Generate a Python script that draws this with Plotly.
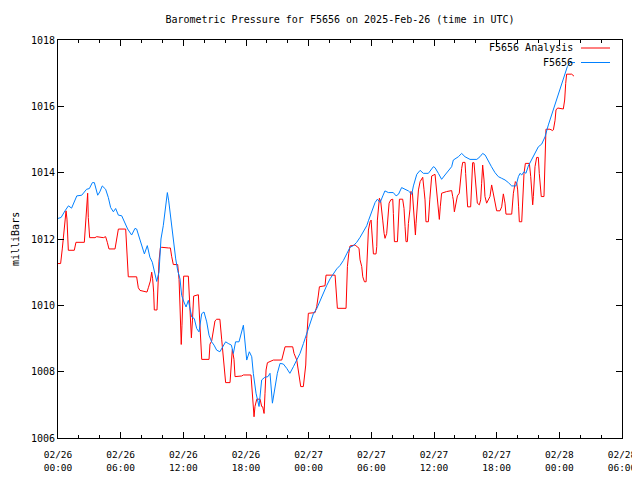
import pandas as pd
import plotly.graph_objects as go

BASE = pd.Timestamp("2025-02-26 00:00")

# F5656 observed pressure: hours since 2025-02-26 00:00 UTC, mbar
obs_hours = [0, 0.3, 0.67, 1.0, 1.3, 1.8, 2.27, 2.74, 3.0, 3.29, 3.48, 3.8, 4.0, 4.24, 4.56, 4.82, 5.04, 5.3, 5.52, 5.78,
             6.1, 6.4, 6.67, 7.05, 7.37, 7.53, 7.85, 8.07, 8.27, 8.55, 8.8, 9.03, 9.22, 9.45, 9.67, 9.86, 10.08, 10.3, 10.47,
             10.6, 10.88, 11.04, 11.27, 11.46, 11.68, 11.84, 12.06, 12.26, 12.48, 12.64, 12.8, 13.05, 13.28, 13.5, 13.76,
             13.98, 14.24, 14.46, 14.71, 14.94, 15.19, 15.5, 15.8, 16.05, 16.3, 16.6, 16.79, 17.0, 17.33, 17.5, 17.75, 18.07,
             18.32, 18.55, 18.7, 18.96, 19.25, 19.5, 19.8, 20.1, 20.3, 20.53, 20.78, 21.0, 21.26, 21.58, 21.9, 22.2, 22.54,
             22.86, 23.17, 23.5, 23.8, 24.13, 24.45, 24.77, 25.09, 25.41, 25.73, 26.05, 26.37, 26.69, 27.0, 27.32, 27.64,
             27.96, 28.28, 28.6, 28.92, 29.24, 29.56, 29.72, 30.04, 30.36, 30.58, 30.84, 31.1, 31.3, 31.63, 32.1, 32.37,
             32.6, 32.9, 33.2, 33.55, 33.87, 34.03, 34.35, 34.67, 34.98, 35.46, 35.94, 36.1, 36.42, 36.73, 37.05, 37.37,
             37.69, 37.85, 38.33, 38.65, 38.97, 39.45, 40.1, 40.4, 40.66, 40.9, 41.2, 41.5, 41.84, 42.16, 42.48, 42.8,
             43.12, 43.44, 43.85, 44.08, 44.24, 44.4, 44.62, 44.8, 45.03, 45.35, 45.67, 45.99, 46.31, 46.63, 46.95, 47.27,
             47.59, 47.91, 48.23, 48.55, 48.77, 49.02, 49.5]
obs_mbar = [1012.62, 1012.65, 1012.85, 1013.0, 1012.93, 1013.3, 1013.32, 1013.5, 1013.52, 1013.7, 1013.7, 1013.32,
            1013.42, 1013.6, 1013.5, 1013.25, 1012.95, 1012.82, 1012.92, 1012.72, 1012.7, 1012.5, 1012.3, 1012.12,
            1012.32, 1012.3, 1012.0, 1011.8, 1011.55, 1011.8, 1011.45, 1011.3, 1011.0, 1010.72, 1011.0, 1012.0, 1012.4,
            1012.9, 1013.4, 1013.15, 1012.5, 1012.0, 1011.4, 1011.05, 1010.8, 1010.3, 1010.1, 1009.95, 1010.15, 1009.9,
            1009.65, 1009.6, 1009.3, 1009.2, 1009.75, 1009.8, 1009.5, 1009.1, 1008.9, 1008.8, 1008.65, 1008.6, 1008.75,
            1008.9, 1008.85, 1008.8, 1008.55, 1008.9, 1008.9, 1009.1, 1009.4, 1008.35, 1008.6, 1008.45, 1007.95, 1007.35,
            1006.95, 1007.75, 1007.83, 1007.85, 1007.95, 1007.05, 1007.55, 1007.95, 1008.25, 1008.23, 1008.1, 1007.95,
            1008.15, 1008.35, 1008.55, 1008.85, 1009.15, 1009.5, 1009.75, 1009.9, 1010.15, 1010.35, 1010.6, 1010.8,
            1010.95, 1011.1, 1011.2, 1011.35, 1011.55, 1011.75, 1011.8, 1011.9, 1012.05, 1012.25, 1012.4, 1012.55,
            1012.85, 1013.1, 1013.2, 1013.1, 1013.3, 1013.45, 1013.4, 1013.4, 1013.3, 1013.35, 1013.55, 1013.5, 1013.45,
            1013.35, 1013.6, 1013.95, 1014.07, 1013.98, 1013.98, 1014.18, 1014.15, 1013.98, 1013.8, 1013.93, 1014.06,
            1014.18, 1014.38, 1014.48, 1014.58, 1014.48, 1014.4, 1014.4, 1014.48, 1014.58, 1014.53, 1014.33, 1014.18,
            1014.0, 1013.88, 1013.83, 1013.78, 1013.7, 1013.6, 1013.6, 1013.88, 1013.98, 1013.93, 1014.03, 1013.98,
            1014.2, 1014.38, 1014.58, 1014.78, 1014.86, 1015.08, 1015.44, 1015.74, 1016.04, 1016.34, 1016.7, 1017.0,
            1017.2, 1017.32, 1017.32]

# F5656 Analysis pressure: hours since 2025-02-26 00:00 UTC, mbar
ana_hours = [0.0, 0.25, 0.41, 0.55, 0.67, 0.77, 0.86, 0.93, 0.99, 1.56, 1.72, 2.52, 2.65, 2.78, 2.84, 2.9, 3.03, 3.54,
             3.7, 4.34, 4.56, 4.72, 4.88, 5.46, 5.62, 5.78, 6.48, 6.57, 6.73, 7.53, 7.69, 7.85, 8.33, 8.52, 8.65, 8.84,
             8.97, 9.06, 9.16, 9.22, 9.48, 9.54, 9.61, 9.67, 9.8, 9.93, 10.57, 10.76, 10.88, 11.04, 11.46, 11.59, 11.68,
             11.74, 11.8, 11.87, 11.94, 12.03, 12.48, 12.57, 12.67, 12.77, 12.87, 12.99, 13.44, 13.53, 13.66, 13.76,
             14.46, 14.55, 14.71, 14.87, 15.03, 15.19, 15.5, 15.67, 15.83, 15.99, 16.05, 16.47, 16.56, 16.69, 16.85,
             16.95, 17.59, 17.75, 18.48, 18.54, 18.67, 18.77, 18.86, 19.03, 19.35, 19.5, 19.6, 19.73, 19.82, 19.92,
             20.05, 20.62, 21.42, 21.58, 21.74, 22.47, 22.6, 22.86, 23.02, 23.11, 23.24, 23.49, 23.59, 23.72, 23.81,
             23.9, 23.97, 24.61, 24.77, 24.93, 25.03, 25.57, 25.66, 26.53, 26.69, 26.75, 27.58, 27.64, 27.71, 27.84,
             27.96, 28.44, 28.82, 28.92, 29.08, 29.18, 29.34, 29.5, 29.56, 29.62, 29.72, 29.88, 29.98, 30.04, 30.13,
             30.2, 30.45, 30.52, 30.58, 30.68, 30.77, 30.9, 31.0, 31.09, 31.22, 31.31, 31.47, 31.57, 31.7, 31.86, 32.05,
             32.11, 32.21, 32.5, 32.59, 32.69, 33.0, 33.13, 33.23, 33.32, 33.45, 33.55, 33.7, 33.77, 33.93, 34.03,
             34.12, 34.22, 34.28, 34.38, 34.51, 34.67, 34.92, 35.04, 35.14, 35.23, 35.46, 35.6, 35.78, 36.1, 36.2,
             36.32, 36.45, 36.51, 36.6, 36.73, 37.21, 37.69, 37.79, 37.85, 37.95, 38.07, 38.24, 38.42, 38.49, 38.65,
             38.75, 38.97, 39.03, 39.13, 39.22, 39.51, 39.6, 39.7, 39.83, 39.93, 40.02, 40.15, 40.34, 40.47, 40.56,
             40.66, 40.79, 40.88, 41.04, 41.2, 41.36, 41.52, 41.62, 41.75, 41.88, 42.0, 42.32, 42.48, 42.64, 42.7,
             42.8, 42.89, 43.44, 43.6, 43.69, 43.79, 43.92, 44.01, 44.1, 44.17, 44.4, 44.49, 44.62, 44.75, 45.13,
             45.26, 45.35, 45.45, 45.51, 45.67, 45.83, 45.99, 46.08, 46.21, 46.27, 46.53, 46.63, 46.72, 47.1, 47.36,
             47.43, 47.59, 47.68, 47.84, 48.38, 48.51, 48.61, 48.7, 49.18, 49.4]
ana_mbar = [1011.26, 1011.26, 1011.7, 1012.1, 1012.44, 1012.85, 1012.6, 1012.0, 1011.66, 1011.66, 1011.9, 1011.9,
            1012.4, 1013.1, 1013.38, 1012.65, 1012.04, 1012.04, 1012.07, 1012.04, 1012.07, 1011.9, 1011.7, 1011.7,
            1012.0, 1012.3, 1012.3, 1011.8, 1010.86, 1010.86, 1010.53, 1010.45, 1010.43, 1010.4, 1010.53, 1010.73,
            1011.0, 1010.8, 1010.4, 1009.86, 1009.86, 1010.4, 1010.88, 1011.33, 1011.73, 1011.75, 1011.73, 1011.73,
            1011.48, 1011.23, 1011.23, 1010.78, 1009.98, 1009.28, 1008.82, 1009.4, 1010.18, 1010.88, 1010.88, 1010.18,
            1009.53, 1009.02, 1009.53, 1010.28, 1010.32, 1009.78, 1008.88, 1008.37, 1008.37, 1008.83, 1008.92, 1009.28,
            1009.53, 1009.58, 1009.58, 1008.98, 1008.37, 1007.82, 1007.67, 1007.67, 1008.27, 1008.67, 1008.37, 1007.85,
            1007.87, 1007.9, 1007.9, 1007.57, 1006.97, 1006.64, 1006.95, 1007.17, 1007.17, 1006.95, 1006.94, 1006.74,
            1007.35, 1008.05, 1008.27, 1008.35, 1008.35, 1008.55, 1008.75, 1008.75, 1008.55, 1008.35, 1008.05, 1007.75,
            1007.55, 1007.55, 1007.8, 1008.2, 1009.0, 1009.4, 1009.76, 1009.78, 1009.96, 1010.31, 1010.56, 1010.59,
            1010.91, 1010.91, 1010.36, 1009.91, 1009.91, 1010.36, 1011.17, 1011.57, 1011.79, 1011.82, 1011.72, 1011.37,
            1011.17, 1010.86, 1010.71, 1010.71, 1011.17, 1011.97, 1012.27, 1012.52, 1012.57, 1012.27, 1011.77, 1011.55,
            1011.55, 1011.77, 1012.57, 1013.08, 1013.23, 1013.13, 1012.9, 1012.57, 1012.17, 1012.02, 1012.17, 1012.67,
            1013.08, 1013.18, 1013.2, 1012.77, 1011.92, 1011.92, 1012.67, 1013.2, 1013.2, 1012.92, 1012.37, 1011.92,
            1011.92, 1012.47, 1012.9, 1013.43, 1013.4, 1012.92, 1012.57, 1012.12, 1012.47, 1012.97, 1013.48, 1013.73,
            1013.86, 1013.5, 1013.18, 1012.52, 1012.52, 1013.2, 1013.9, 1013.95, 1013.6, 1013.28, 1012.97, 1012.59,
            1012.97, 1013.38, 1013.43, 1013.46, 1013.28, 1013.18, 1012.82, 1013.08, 1013.3, 1013.38, 1013.68, 1014.13,
            1014.31, 1014.31, 1013.98, 1013.38, 1012.97, 1012.97, 1013.98, 1014.3, 1014.3, 1013.98, 1013.58, 1013.08,
            1013.03, 1013.18, 1013.68, 1014.23, 1013.78, 1013.28, 1013.08, 1013.18, 1013.28, 1013.63, 1013.48, 1013.18,
            1013.03, 1012.85, 1012.85, 1012.97, 1013.36, 1013.28, 1013.08, 1012.75, 1012.75, 1013.38, 1013.58, 1013.73,
            1013.68, 1013.48, 1012.97, 1012.52, 1012.52, 1013.28, 1013.98, 1014.28, 1014.28, 1013.88, 1013.48, 1013.03,
            1013.28, 1014.18, 1014.46, 1014.46, 1013.98, 1013.38, 1013.28, 1013.28, 1014.88, 1015.31, 1015.31, 1015.27,
            1015.29, 1015.58, 1015.89, 1015.95, 1015.92, 1016.19, 1016.69, 1016.97, 1016.97, 1016.91]

tick_hours = [0, 6, 12, 18, 24, 30, 36, 42, 48, 54]
tick_labels = ["02/26<br>00:00", "02/26<br>06:00", "02/26<br>12:00", "02/26<br>18:00", "02/27<br>00:00",
               "02/27<br>06:00", "02/27<br>12:00", "02/27<br>18:00", "02/28<br>00:00", "02/28<br>06:00"]
series_names = ["F5656 Analysis", "F5656"]
series_colors = ["#ff0000", "#0080ff"]


def to_time(hours):
    return BASE + pd.to_timedelta(hours, unit="h")


MONO = "DejaVu Sans Mono"

fig = go.Figure()
fig.add_trace(go.Scatter(x=to_time(ana_hours), y=ana_mbar, mode="lines", name=series_names[0],
                         line=dict(color=series_colors[0], width=1)))
fig.add_trace(go.Scatter(x=to_time(obs_hours), y=obs_mbar, mode="lines", name=series_names[1],
                         line=dict(color=series_colors[1], width=1)))

# the page adds an 8px body margin; margins below compensate so the plot box sits at 58..622 x 40..438
fig.update_layout(
    width=640, height=480,
    margin=dict(l=50, r=26, t=32, b=50, autoexpand=False),
    paper_bgcolor="white", plot_bgcolor="white",
    showlegend=False,
    font=dict(family=MONO, size=10, color="black"),
    title=dict(text="Barometric Pressure for F5656 on 2025-Feb-26 (time in UTC)", x=0.5, xref="paper",
               y=1 - 11 / 480, yanchor="middle", font=dict(family=MONO, size=10, color="black")),
)

fig.update_xaxes(
    range=[to_time(0), to_time(54)],
    tickmode="array", tickvals=list(to_time(tick_hours)), ticktext=tick_labels,
    ticks="inside", ticklen=6, tickcolor="black", tickfont=dict(family=MONO, size=9.5),
    ticklabelstandoff=8,
    showline=True, linecolor="black", linewidth=1, mirror="allticks",
    showgrid=False, zeroline=False,
    minor=dict(tickmode="linear", tick0=BASE, dtick=2 * 3600 * 1000, ticks="inside", ticklen=3,
               tickcolor="black", showgrid=False),
)
fig.update_yaxes(
    range=[1006, 1018], dtick=2, tick0=1006,
    ticks="inside", ticklen=6, tickcolor="black", tickfont=dict(family=MONO, size=10),
    showline=True, linecolor="black", linewidth=1, mirror="allticks",
    showgrid=False, zeroline=False,
)

# y-axis title
fig.add_annotation(text="milliBars", xref="paper", yref="paper", x=(15 - 58) / 564, y=0.5,
                   textangle=-90, showarrow=False, font=dict(family=MONO, size=10),
                   xanchor="center", yanchor="middle")

# legend (text left of sample, gnuplot style)
legend_rows = [(48, 0), (62.5, 1)]
for py, i in legend_rows:
    yp = (438 - py) / 398
    fig.add_annotation(text=series_names[i], xref="paper", yref="paper", x=(575 - 58) / 564, y=yp,
                       xanchor="right", yanchor="middle", showarrow=False, font=dict(family=MONO, size=10))
    fig.add_shape(type="line", xref="paper", yref="paper", x0=(581 - 58) / 564, x1=(610 - 58) / 564,
                  y0=yp, y1=yp, line=dict(color=series_colors[i], width=1))

fig.write_html("out.html")
